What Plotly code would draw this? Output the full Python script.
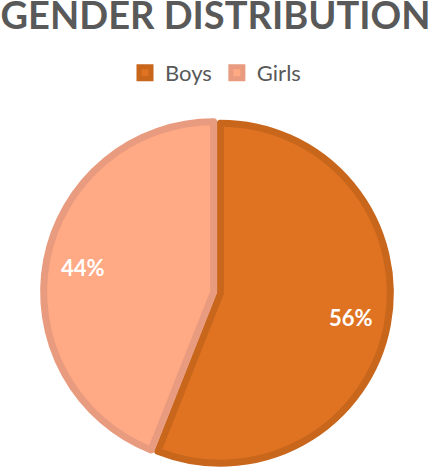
import math
import plotly.graph_objects as go

labels = ["Boys", "Girls"]
values = [56, 44]
fill_colors = ["#E07322", "#FFA985"]
border_colors = ["#C8661C", "#E89B7E"]

title_text = "GENDER DISTRIBUTION"

W, H = 431, 470
cx, cy = 217, 292.5   # pie centre in pixels (from top-left)
pull = 0.02
r_fill = 170
r_dom = r_fill * (1 + pull)
label_r = 0.80        # label distance as fraction of radius

fig = go.Figure()
fig.add_trace(go.Pie(
    labels=labels,
    values=values,
    sort=False,
    direction="clockwise",
    rotation=0,
    pull=[pull, pull],
    marker=dict(colors=fill_colors, line=dict(color=border_colors, width=7)),
    textinfo="none",
    hoverinfo="label+percent",
    domain=dict(
        x=[(cx - r_dom) / W, (cx + r_dom) / W],
        y=[(H - cy - r_dom) / H, (H - cy + r_dom) / H],
    ),
))

# percentage labels placed along each slice's bisector
total = sum(values)
cum = 0
for v in values:
    mid = (cum + v / 2) / total * 2 * math.pi
    cum += v
    px = cx + label_r * r_fill * math.sin(mid)
    py = cy - label_r * r_fill * math.cos(mid)
    fig.add_annotation(
        x=px / W, y=1 - py / H, xref="paper", yref="paper",
        text=f"{round(100 * v / total)}%", showarrow=False,
        font=dict(family="Lato", size=22, color="white", weight="bold"),
        xanchor="center", yanchor="middle",
    )

fig.update_layout(
    width=W, height=H,
    margin=dict(l=0, r=0, t=0, b=0),
    paper_bgcolor="white",
    plot_bgcolor="white",
    title=dict(
        text=title_text,
        x=0.5, xanchor="center",
        y=1 - 2 / H, yanchor="top", yref="container",
        font=dict(family="Lato", size=38, color="#595959", weight="bold"),
    ),
    showlegend=True,
    legend=dict(
        orientation="h",
        x=0.5, xanchor="center",
        y=1 - 73 / H, yanchor="middle",
        font=dict(family="Lato", size=22, color="#595959"),
        traceorder="normal",
    ),
)

fig.write_html("out.html", config={"displayModeBar": False},
               post_script="document.body.style.margin='0px';")
